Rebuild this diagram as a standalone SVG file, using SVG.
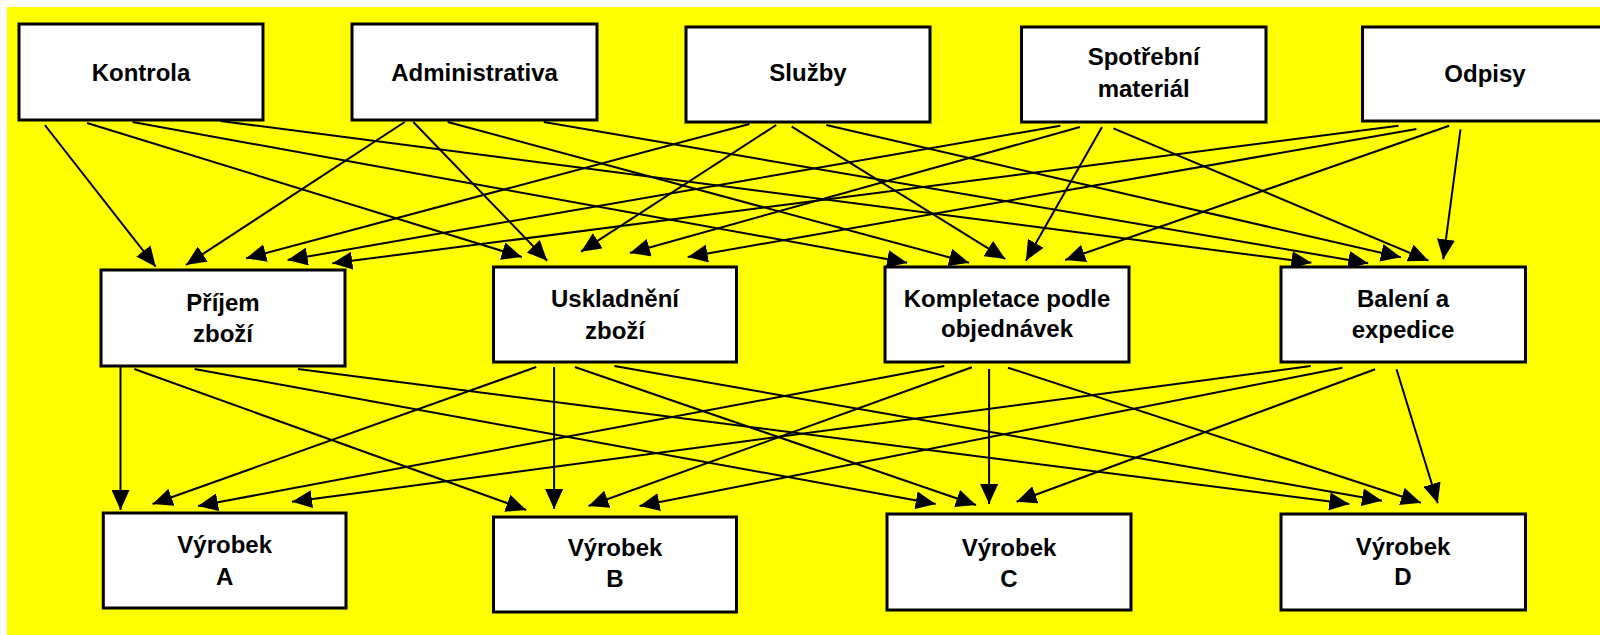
<svg xmlns="http://www.w3.org/2000/svg" width="1600" height="635" viewBox="0 0 1600 635">
<style>
.box{fill:#fff;stroke:#000;stroke-width:3}
.lbl{font-family:"Liberation Sans",Arial,sans-serif;font-weight:bold;font-size:24px;fill:#000;text-anchor:middle}
.e{stroke:#000;stroke-width:2;fill:none;marker-end:url(#ah)}
</style>
<defs>
<marker id="ah" viewBox="0 0 20 18" refX="20" refY="9" markerWidth="20" markerHeight="18" markerUnits="userSpaceOnUse" orient="auto">
<path d="M0,0 L20,9 L0,18 z" fill="#000"/>
</marker>
</defs>
<rect x="0" y="0" width="1600" height="635" fill="#fff"/>
<rect x="7" y="7" width="1593" height="628" fill="#ffff00"/>
<g id="connectors">
<line class="e" x1="44.8" y1="125" x2="155.7" y2="266.7"/>
<line class="e" x1="87.1" y1="123" x2="521.8" y2="257"/>
<line class="e" x1="132.6" y1="122" x2="907.1" y2="262.7"/>
<line class="e" x1="220.4" y1="121" x2="1311.4" y2="262.7"/>
<line class="e" x1="404.7" y1="122" x2="186" y2="265"/>
<line class="e" x1="413.3" y1="122" x2="547.2" y2="260.7"/>
<line class="e" x1="447.7" y1="122" x2="969.1" y2="262.7"/>
<line class="e" x1="543.8" y1="122" x2="1368.2" y2="263.3"/>
<line class="e" x1="749.4" y1="124" x2="246.2" y2="258.3"/>
<line class="e" x1="776.2" y1="125" x2="581" y2="251.7"/>
<line class="e" x1="791.7" y1="126.7" x2="1005.3" y2="259"/>
<line class="e" x1="826.2" y1="125" x2="1400.9" y2="257.3"/>
<line class="e" x1="1060.4" y1="125.7" x2="287.6" y2="260"/>
<line class="e" x1="1080" y1="127" x2="629.9" y2="253"/>
<line class="e" x1="1102" y1="127" x2="1025.9" y2="260.7"/>
<line class="e" x1="1113.4" y1="128.3" x2="1428.5" y2="260.7"/>
<line class="e" x1="1398.5" y1="125.7" x2="332.3" y2="263.3"/>
<line class="e" x1="1416.4" y1="129" x2="687.7" y2="257"/>
<line class="e" x1="1449.2" y1="125.7" x2="1065.2" y2="260"/>
<line class="e" x1="1460.5" y1="129.3" x2="1443.3" y2="259.3"/>
<line class="e" x1="120.5" y1="366" x2="120.5" y2="510"/>
<line class="e" x1="134.3" y1="369" x2="526.2" y2="510"/>
<line class="e" x1="194.6" y1="369" x2="935.7" y2="504"/>
<line class="e" x1="297.9" y1="369" x2="1349.3" y2="504"/>
<line class="e" x1="536.2" y1="367" x2="152.6" y2="504"/>
<line class="e" x1="554.1" y1="367" x2="554.1" y2="509"/>
<line class="e" x1="574.8" y1="367" x2="976" y2="505"/>
<line class="e" x1="614.4" y1="366" x2="1382" y2="500.7"/>
<line class="e" x1="944.3" y1="366" x2="198" y2="506"/>
<line class="e" x1="971.9" y1="367.3" x2="588.5" y2="506"/>
<line class="e" x1="989.1" y1="369" x2="989.1" y2="504"/>
<line class="e" x1="1008" y1="367.7" x2="1420.9" y2="502.7"/>
<line class="e" x1="1310.7" y1="366" x2="292" y2="501.7"/>
<line class="e" x1="1342.4" y1="367.7" x2="639.5" y2="506"/>
<line class="e" x1="1375.1" y1="369.3" x2="1016.6" y2="501.7"/>
<line class="e" x1="1396.5" y1="369.3" x2="1437.8" y2="503.3"/>
</g>
<g id="kontrola"><rect class="box" x="19" y="24" width="244" height="96"/><text class="lbl" x="141" y="81">Kontrola</text></g>
<g id="administrativa"><rect class="box" x="352" y="24" width="245" height="96"/><text class="lbl" x="474.5" y="81">Administrativa</text></g>
<g id="sluzby"><rect class="box" x="686" y="27" width="244" height="95"/><text class="lbl" x="808" y="81">Služby</text></g>
<g id="spotrebni"><rect class="box" x="1021.5" y="27" width="244.5" height="95"/><text class="lbl" x="1143.7" y="65">Spotřební</text><text class="lbl" x="1143.7" y="96.7">materiál</text></g>
<g id="odpisy"><rect class="box" x="1362.5" y="27" width="250" height="94"/><text class="lbl" x="1485" y="81.5">Odpisy</text></g>
<g id="prijem"><rect class="box" x="101" y="270" width="244" height="96"/><text class="lbl" x="223" y="311">Příjem</text><text class="lbl" x="223" y="342">zboží</text></g>
<g id="uskladneni"><rect class="box" x="493.5" y="267" width="243" height="95"/><text class="lbl" x="615" y="306.7">Uskladnění</text><text class="lbl" x="615" y="339">zboží</text></g>
<g id="kompletace"><rect class="box" x="885" y="267" width="244" height="95"/><text class="lbl" x="1007" y="306.7">Kompletace podle</text><text class="lbl" x="1007" y="337.3">objednávek</text></g>
<g id="baleni"><rect class="box" x="1281" y="267" width="244.5" height="95"/><text class="lbl" x="1403" y="306.7">Balení a</text><text class="lbl" x="1403" y="338">expedice</text></g>
<g id="vyrobekA"><rect class="box" x="103.3" y="513" width="242.7" height="95"/><text class="lbl" x="224.7" y="553">Výrobek</text><text class="lbl" x="224.7" y="585">A</text></g>
<g id="vyrobekB"><rect class="box" x="493.5" y="517" width="243" height="95"/><text class="lbl" x="615" y="556">Výrobek</text><text class="lbl" x="615" y="587">B</text></g>
<g id="vyrobekC"><rect class="box" x="887" y="514" width="244" height="96"/><text class="lbl" x="1009" y="556">Výrobek</text><text class="lbl" x="1009" y="587">C</text></g>
<g id="vyrobekD"><rect class="box" x="1281" y="514" width="244.5" height="96"/><text class="lbl" x="1403" y="555">Výrobek</text><text class="lbl" x="1403" y="585">D</text></g>
</svg>
